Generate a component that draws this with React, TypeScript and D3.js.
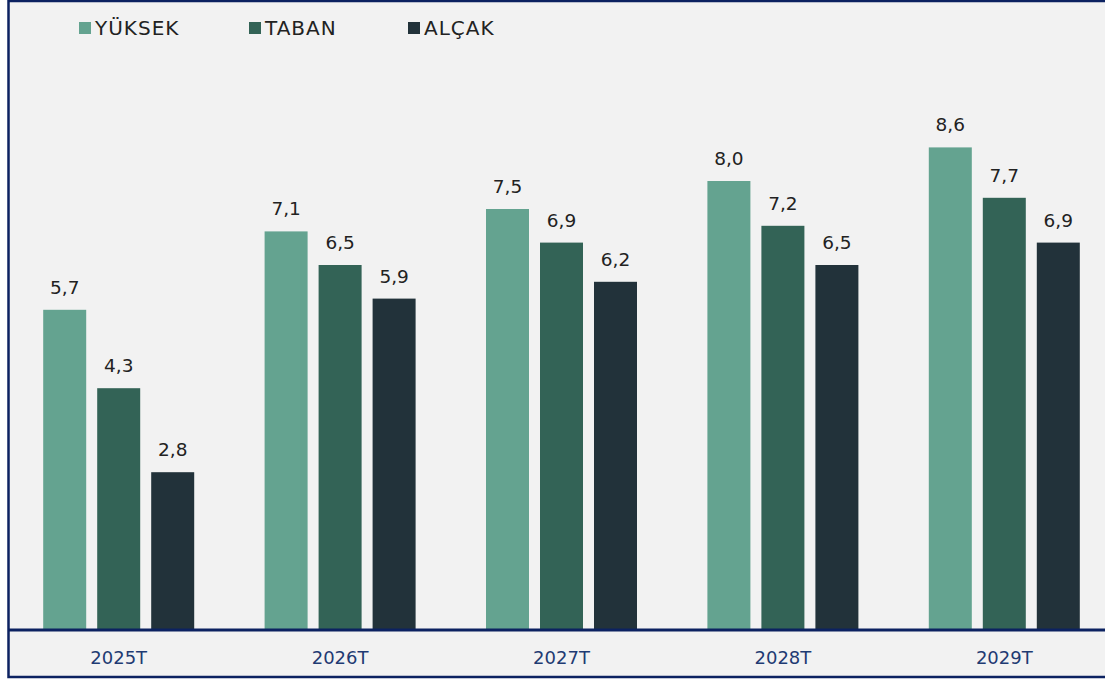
import React, { useRef, useEffect } from 'react';
import * as d3 from 'd3';

const categories = ["2025T", "2026T", "2027T", "2028T", "2029T"];
const seriesNames = ["YÜKSEK", "TABAN", "ALÇAK"];
const yuksek = [5.7, 7.1, 7.5, 8.0, 8.6];
const taban = [4.3, 6.5, 6.9, 7.2, 7.7];
const alcak = [2.8, 5.9, 6.2, 6.5, 6.9];
const seriesColors = ["#64a390", "#336356", "#22323a"];

const W = 1105;
const H = 679;

export default function App() {
    const svgRef = useRef<SVGSVGElement>(null);

    useEffect(() => {
        if (!svgRef.current) return;
        const svg = d3.select(svgRef.current);
        svg.selectAll("*").remove();

        const font = "'DejaVu Sans', sans-serif";
        const values = [yuksek, taban, alcak];

        // frame
        svg.append("rect")
            .attr("x", 8.5).attr("y", 1).attr("width", 1120).attr("height", 676)
            .attr("fill", "#f2f2f2")
            .attr("stroke", "#0c2261")
            .attr("stroke-width", 2.5);

        const baseY = 629;
        const x0 = d3.scaleBand().domain(categories).range([8, 1115]).padding(0);
        const x1 = d3.scaleBand().domain(seriesNames).range([0, 151]).paddingInner(11 / 54).paddingOuter(0);
        const y = d3.scaleLinear().domain([0, 10]).range([baseY, 69]);
        const off = (x0.bandwidth() - 151) / 2;

        const groups = svg.selectAll(".grp")
            .data(categories)
            .enter()
            .append("g")
            .attr("transform", d => `translate(${x0(d)! + off},0)`);

        groups.each(function (cat, ci) {
            const g = d3.select(this);
            seriesNames.forEach((s, si) => {
                const v = values[si][ci];
                g.append("rect")
                    .attr("x", x1(s)!)
                    .attr("y", y(v))
                    .attr("width", x1.bandwidth())
                    .attr("height", baseY - y(v))
                    .attr("fill", seriesColors[si]);
                g.append("text")
                    .attr("x", x1(s)! + x1.bandwidth() / 2)
                    .attr("y", y(v) - 16)
                    .attr("text-anchor", "middle")
                    .style("font-family", font)
                    .style("font-size", "18.5px")
                    .style("fill", "#222")
                    .text(v.toFixed(1).replace(".", ","));
            });
        });

        // axis line
        svg.append("line")
            .attr("x1", 8).attr("x2", W)
            .attr("y1", baseY + 1).attr("y2", baseY + 1)
            .attr("stroke", "#0c2261")
            .attr("stroke-width", 3);

        const xAxis = d3.axisBottom(x0).tickSize(0).tickPadding(0);
        const ax = svg.append("g")
            .attr("transform", `translate(0,${baseY})`)
            .call(xAxis);
        ax.select(".domain").remove();
        ax.selectAll("text")
            .attr("y", 35)
            .attr("dy", 0)
            .style("font-family", font)
            .style("font-size", "18px")
            .style("fill", "#1f3b73");

        // legend
        const legendX = [79, 249, 408];
        seriesNames.forEach((s, i) => {
            svg.append("rect")
                .attr("x", legendX[i]).attr("y", 22)
                .attr("width", 12).attr("height", 12)
                .attr("fill", seriesColors[i]);
            svg.append("text")
                .attr("x", legendX[i] + 16)
                .attr("y", 35)
                .style("font-family", font)
                .style("font-size", "20px")
                .style("letter-spacing", "1px")
                .style("fill", "#222")
                .text(s);
        });
    }, []);

    return (
        <div style={{ position: "absolute", left: 0, top: 0 }}>
            <svg ref={svgRef} width={W} height={H} style={{ display: "block", background: "#fff" }} />
        </div>
    );
}
